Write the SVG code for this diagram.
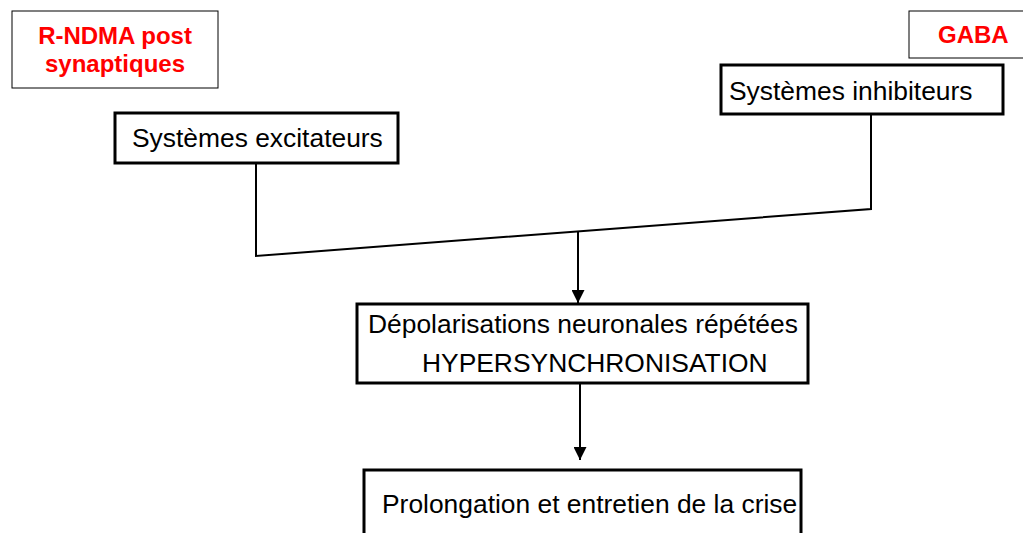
<svg xmlns="http://www.w3.org/2000/svg" width="1023" height="533" viewBox="0 0 1023 533">
<style>
.lbl{fill:#ff0000;font-family:"Liberation Sans",Arial,sans-serif;font-weight:bold;font-size:24px}
.lblbox{fill:#fff;stroke:#000;stroke-width:1}
.box{fill:#fff;stroke:#000;stroke-width:3}
.txt{fill:#000;font-family:"Liberation Sans",Arial,sans-serif;font-size:26.4px}
.con{fill:none;stroke:#000;stroke-width:2}
</style>
<defs>
<marker id="arr" markerUnits="userSpaceOnUse" markerWidth="14" markerHeight="13" refX="13" refY="6.5" orient="auto">
<path d="M0,0 L13,6.5 L0,13 Z" fill="#000"/>
</marker>
</defs>
<rect width="1023" height="533" fill="#fff"/>
<g id="rndma">
<rect class="lblbox" x="12" y="11" width="206" height="77"/>
<text class="lbl" x="115" y="44" text-anchor="middle">R-NDMA post</text>
<text class="lbl" x="115" y="72" text-anchor="middle">synaptiques</text>
</g>
<g id="gaba">
<rect class="lblbox" x="909" y="11" width="125" height="47"/>
<text class="lbl" x="938" y="43">GABA</text>
</g>
<g id="inhibiteurs">
<rect class="box" x="721" y="65" width="282" height="49"/>
<text class="txt" x="729" y="100">Systèmes inhibiteurs</text>
</g>
<g id="excitateurs">
<rect class="box" x="115" y="113" width="283" height="50"/>
<text class="txt" x="132" y="147">Systèmes excitateurs</text>
</g>
<g id="depolarisation">
<rect class="box" x="357" y="304" width="451" height="79"/>
<text class="txt" x="368" y="333">Dépolarisations neuronales répétées</text>
<text class="txt" x="422" y="372">HYPERSYNCHRONISATION</text>
</g>
<g id="prolongation">
<rect class="box" x="364" y="470" width="437" height="80"/>
<text class="txt" x="382" y="513">Prolongation et entretien de la crise</text>
</g>
<g id="connectors">
<polyline class="con" points="256,163 256,256 871,209 871,114"/>
<line class="con" x1="578" y1="231" x2="578" y2="303" marker-end="url(#arr)"/>
<line class="con" x1="580" y1="384" x2="580" y2="460" marker-end="url(#arr)"/>
</g>
</svg>
